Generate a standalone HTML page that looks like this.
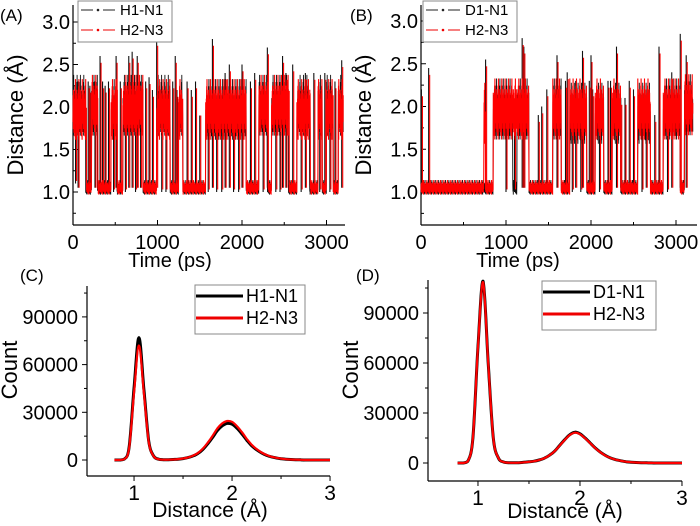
<!DOCTYPE html>
<html><head><meta charset="utf-8"><style>
html,body{margin:0;padding:0;background:#fff}
svg{display:block;font-family:"Liberation Sans",Arial,sans-serif}
</style></head><body>
<svg id="fig" width="700" height="526" viewBox="0 0 700 526" xmlns="http://www.w3.org/2000/svg">
<g id="pA"></g>
<g id="pB"></g>
<g id="pC"></g>
<g id="pD"></g>
</svg>
<script>
// ---- time-series state segments: [start ps, end ps, level] ----
const segA_black = [[0,150,2.0],[150,220,1.05],[220,290,2.0],[290,450,1.05],[450,520,1.95],[520,590,1.05],[590,830,2.0],[830,990,1.05],[990,1150,2.0],[1150,1250,1.05],[1250,1300,2.0],[1300,1570,1.05],[1570,2050,1.95],[2050,2200,1.05],[2200,2300,2.0],[2300,2350,1.05],[2350,2550,2.0],[2550,2650,1.05],[2650,2800,2.0],[2800,2900,1.05],[2900,2950,2.0],[2950,3000,1.05],[3000,3080,2.0],[3080,3140,1.05],[3140,3200,2.0]];
const segA_red = [[0,160,1.95],[160,220,1.05],[220,295,2.0],[295,450,1.05],[450,525,1.95],[525,590,1.05],[590,830,2.0],[830,990,1.05],[990,1150,1.95],[1150,1250,1.05],[1250,1300,1.95],[1300,1570,1.05],[1570,2050,1.95],[2050,2200,1.05],[2200,2310,2.0],[2310,2350,1.05],[2350,2560,2.0],[2560,2650,1.05],[2650,2810,1.95],[2810,2900,1.05],[2900,2950,1.95],[2950,3000,1.05],[3000,3080,1.95],[3080,3140,1.05],[3140,3200,1.95]];
const spikeA_t = [30,60,180,200,260,320,350,380,420,480,510,560,620,660,700,740,760,800,860,900,940,990,1050,1100,1180,1210,1230,1350,1400,1450,1500,1600,1650,1700,1760,1800,1850,1900,1960,2000,2100,2150,2250,2300,2400,2450,2480,2520,2600,2700,2750,2850,2920,2980,3040,3100,3180];
const spikeA_v = [1.1,2.3,2.3,2.25,2.3,2.6,2.3,2.25,2.3,1.0,2.6,2.3,1.0,2.6,2.65,1.0,2.6,2.3,2.3,2.35,2.2,2.8,1.0,1.0,2.3,2.6,2.2,2.3,2.2,2.3,1.0,1.0,2.8,1.0,1.0,2.4,2.5,1.0,1.0,2.5,2.3,2.4,1.0,2.7,1.0,1.0,2.6,2.4,2.5,1.0,2.4,2.4,1.0,2.4,1.0,2.3,2.55];
const segB_black = [[0,850,1.05],[850,1080,1.95],[1080,1130,1.05],[1130,1270,1.95],[1270,1550,1.05],[1550,1650,1.95],[1650,1750,1.05],[1750,1950,1.9],[1950,2050,1.05],[2050,2150,1.9],[2150,2250,1.05],[2250,2350,1.9],[2350,2550,1.05],[2550,2700,1.9],[2700,2850,1.05],[2850,3050,1.95],[3050,3100,1.05],[3100,3200,2.0]];
const segB_red = [[0,740,1.05],[740,760,1.9],[760,850,1.05],[850,1270,1.95],[1270,1550,1.05],[1550,1650,1.95],[1650,1750,1.05],[1750,1950,1.95],[1950,2050,1.05],[2050,2150,1.95],[2150,2250,1.05],[2250,2350,1.95],[2350,2550,1.05],[2550,2700,1.95],[2700,2850,1.05],[2850,3050,1.95],[3050,3100,1.05],[3100,3200,2.0]];
const spikeB_t = [5,90,760,1000,1100,1190,1210,1380,1420,1480,1600,1700,1720,1780,1820,1880,1900,1980,2000,2020,2100,2200,2230,2300,2350,2400,2450,2500,2600,2650,2750,2800,2900,2950,3050,3120];
const spikeB_v = [2.2,2.45,2.55,1.0,1.0,2.8,2.7,1.9,2.0,2.2,2.6,2.3,2.4,1.0,2.3,1.0,2.65,2.3,2.6,2.2,1.0,2.3,2.3,2.7,2.1,2.1,2.3,2.2,1.0,2.2,1.9,2.7,1.0,2.4,2.85,2.6];
const jitter = [0.35,-0.2,0.5,-0.45,0.1,-0.6,0.7,-0.3,0.25,-0.8,0.45,-0.15,0.9,-0.5,0.2,-0.35,0.6,-0.7,0.05,-0.25];

// ---- histogram data ----
const dist = [];
for (let i=0;i<=44;i++) dist.push(+(0.8+i*0.05).toFixed(2));
const histC_black = [0,0,500,8000,45000,77000,45000,12000,2500,500,200,200,300,500,900,1500,2500,4000,6500,10000,14000,18500,21500,23000,22500,20000,16500,12500,9000,6500,4500,3000,2000,1300,800,500,300,200,100,0,0,0,0,0,0];
const histC_red = [0,0,500,7500,42000,72000,42500,11500,2400,500,200,200,300,550,950,1600,2700,4300,7000,10700,15000,19800,23000,24500,24000,21300,17600,13300,9600,6900,4800,3200,2100,1400,850,500,300,200,100,0,0,0,0,0,0];
const histD_black = [0,0,1000,15000,70000,109000,60000,15000,3000,600,200,100,200,400,700,1100,1800,2900,4600,7000,10500,14000,17000,18500,17500,15000,12000,9000,6500,4500,3000,2000,1300,800,500,300,200,100,50,0,0,0,0,0,0];
const histD_red = [0,0,1000,15000,70000,108500,60000,15000,3000,600,200,100,200,400,700,1100,1800,2900,4600,7000,10400,13800,16800,18200,17300,14800,11900,8900,6400,4400,3000,2000,1300,800,500,300,200,100,50,0,0,0,0,0,0];

const NS="http://www.w3.org/2000/svg";
function mk(parent,tag,attrs,name){const e=document.createElementNS(NS,tag);for(const k in attrs)e.setAttribute(k,attrs[k]);


parent.appendChild(e);return e;}
function txt(parent,x,y,s,size,anchor,name,rot){const t=mk(parent,'text',{x:x,y:y,'font-size':size,'text-anchor':anchor||'middle',fill:'#000'},name);if(rot)t.setAttribute('transform','rotate(-90 '+x+' '+y+')');t.textContent=s;return t;}

function tsPanel(g,cfg){
  const X=t=>cfg.x0+t*cfg.sx, Y=v=>cfg.y1-(v-1)*cfg.sy;
  mk(g,'line',{x1:cfg.x0,y1:5,x2:cfg.x0,y2:225,stroke:'#000','stroke-width':1.2},'y-axis-line');
  mk(g,'line',{x1:cfg.x0,y1:225,x2:cfg.xEnd,y2:225,stroke:'#000','stroke-width':1.2},'x-axis-line');
  [1.0,1.5,2.0,2.5,3.0].forEach(v=>{mk(g,'line',{x1:cfg.x0,y1:Y(v),x2:cfg.x0+5,y2:Y(v),stroke:'#000'},'y-tick');
    txt(g,cfg.x0-3,Y(v)+7,v.toFixed(1),20,'end','y-tick-label');});
  [0.75,1.25,1.75,2.25,2.75].forEach(v=>mk(g,'line',{x1:cfg.x0,y1:Y(v),x2:cfg.x0+3,y2:Y(v),stroke:'#000'},'y-minor-tick'));
  [0,1000,2000,3000].forEach(t=>{mk(g,'line',{x1:X(t),y1:225,x2:X(t),y2:220,stroke:'#000'},'x-tick');
    txt(g,X(t),249,String(t),20,'middle','x-tick-label');});
  [500,1500,2500].forEach(t=>mk(g,'line',{x1:X(t),y1:225,x2:X(t),y2:222,stroke:'#000'},'x-minor-tick'));
  function series(segs,spT,spV,color,phase,name,w){
    let pts=[];let k=phase;
    segs.forEach(s=>{const hw=s[2]>1.5?0.42:0.1;
      for(let t=s[0];t<s[1];t+=2){pts.push(X(t).toFixed(1)+','+Y(s[2]+hw*jitter[k%jitter.length]).toFixed(1));k+=3;}});
    mk(g,'polyline',{points:pts.join(' '),fill:'none',stroke:color,'stroke-width':w},name);
    spT.forEach((t,i)=>{mk(g,'line',{x1:X(t),y1:Y(spV[i]>1.5?1.05:1.9),x2:X(t),y2:Y(spV[i]),stroke:color,'stroke-width':1.1},name+'-spike');});
  }
  series(cfg.segK,cfg.spT,cfg.spV,'#111',0,'series-black',0.9);
  series(cfg.segR,cfg.spT.map(t=>t+12),cfg.spV.map(v=>v>1.5?v-0.08:v+0.03),'#f00',7,'series-red',1.1);
  txt(g,cfg.x0-50,115,'Distance (Å)',22,'middle','y-axis-title',true);
  txt(g,cfg.xt,267,'Time (ps)',20,'middle','x-axis-title');
  txt(g,cfg.lx,21,cfg.label,17,'start','panel-label');
  const L=mk(g,'g',{},'legend');
  mk(L,'rect',{x:cfg.bx,y:1,width:94,height:41,fill:'#fff',stroke:'#888'},'legend-box');
  [[cfg.n1,'#222',14],[cfg.n2,'#e00',34]].forEach((e,i)=>{
    mk(L,'line',{x1:cfg.bx+3,y1:e[2]-4,x2:cfg.bx+40,y2:e[2]-4,stroke:e[1],'stroke-dasharray':'12 4 2 4'},'legend-line');
    mk(L,'circle',{cx:cfg.bx+20,cy:e[2]-4,r:1.3,fill:e[1]},'legend-marker');
    txt(L,cfg.bx+42,e[2]+1,e[0],15,'start','legend-label');});
}
tsPanel(document.getElementById('pA'),{x0:73,sx:0.0845,y1:192,sy:85,xEnd:345,segK:segA_black,segR:segA_red,spT:spikeA_t,spV:spikeA_v,xt:170,lx:0,label:'(A)',bx:78,n1:'H1-N1',n2:'H2-N3'});
tsPanel(document.getElementById('pB'),{x0:421,sx:0.085,y1:192,sy:85.5,xEnd:697,segK:segB_black,segR:segB_red,spT:spikeB_t,spV:spikeB_v,xt:518,lx:350,label:'(B)',bx:423,n1:'D1-N1',n2:'H2-N3'});

function histPanel(g,cfg){
  const X=d=>cfg.x0+(d-cfg.dmin)*cfg.sx, Y=c=>cfg.yz-c*cfg.sy;
  mk(g,'line',{x1:cfg.x0,y1:cfg.yTop,x2:cfg.x0,y2:cfg.yb,stroke:'#000','stroke-width':1.2},'y-axis-line');
  mk(g,'line',{x1:cfg.x0,y1:cfg.yb,x2:X(3),y2:cfg.yb,stroke:'#000','stroke-width':1.2},'x-axis-line');
  [0,30000,60000,90000].forEach(c=>{mk(g,'line',{x1:cfg.x0,y1:Y(c),x2:cfg.x0-5,y2:Y(c),stroke:'#000'},'y-tick');
    txt(g,cfg.x0-9,Y(c)+7,String(c),20,'end','y-tick-label');});
  [15000,45000,75000,105000].forEach(c=>mk(g,'line',{x1:cfg.x0,y1:Y(c),x2:cfg.x0-3,y2:Y(c),stroke:'#000'},'y-minor-tick'));
  [1,2,3].forEach(d=>{mk(g,'line',{x1:X(d),y1:cfg.yb,x2:X(d),y2:cfg.yb+5,stroke:'#000'},'x-tick');
    txt(g,X(d),cfg.yb+24,String(d),21,'middle','x-tick-label');});
  [1.5,2.5].forEach(d=>mk(g,'line',{x1:X(d),y1:cfg.yb,x2:X(d),y2:cfg.yb+3,stroke:'#000'},'x-minor-tick'));
  function curve(vals,color,w,name){
    const p=dist.map((d,i)=>[X(d),Y(vals[i])]);
    let s='M'+p[0][0]+','+p[0][1];
    for(let i=0;i<p.length-1;i++){const p0=p[Math.max(0,i-1)],p1=p[i],p2=p[i+1],p3=p[Math.min(p.length-1,i+2)];
      const c1=[p1[0]+(p2[0]-p0[0])/6,p1[1]+(p2[1]-p0[1])/6],c2=[p2[0]-(p3[0]-p1[0])/6,p2[1]-(p3[1]-p1[1])/6];
      s+=' C'+c1[0].toFixed(1)+','+Math.min(cfg.yz,c1[1]).toFixed(1)+' '+c2[0].toFixed(1)+','+Math.min(cfg.yz,c2[1]).toFixed(1)+' '+p2[0].toFixed(1)+','+p2[1].toFixed(1);}
    mk(g,'path',{d:s,fill:'none',stroke:color,'stroke-width':w},name);
  }
  curve(cfg.k,'#000',3,'series-black');
  curve(cfg.r,'#f00',2.2,'series-red');
  txt(g,cfg.x0-70,370,'Count',22,'middle','y-axis-title',true);
  txt(g,cfg.xt,cfg.xty,'Distance (Å)',21,'middle','x-axis-title');
  txt(g,cfg.lx,281,cfg.label,17,'start','panel-label');
  const L=mk(g,'g',{},'legend');
  mk(L,'rect',{x:cfg.bx,y:cfg.by,width:cfg.bw,height:49,fill:'#fff',stroke:'#888'},'legend-box');
  [[cfg.n1,'#000',cfg.by+17],[cfg.n2,'#e00',cfg.by+39]].forEach(e=>{
    mk(L,'line',{x1:cfg.bx+1,y1:e[2]-6,x2:cfg.bx+48,y2:e[2]-6,stroke:e[1],'stroke-width':3},'legend-line');
    txt(L,cfg.bx+51,e[2],e[0],18,'start','legend-label');});
}
histPanel(document.getElementById('pC'),{x0:87,dmin:0.52,sx:98,yz:460,sy:47.7/30000,yTop:286,yb:476,xty:517,k:histC_black,r:histC_red,xt:210,lx:20,label:'(C)',bx:195,by:285,bw:110,n1:'H1-N1',n2:'H2-N3'});
histPanel(document.getElementById('pD'),{x0:428,dmin:0.51,sx:102,yz:463,sy:50/30000,yTop:280,yb:481,xty:518,k:histD_black,r:histD_red,xt:565,lx:356,label:'(D)',bx:542,by:281,bw:114,n1:'D1-N1',n2:'H2-N3'});
</script>
</body></html>
